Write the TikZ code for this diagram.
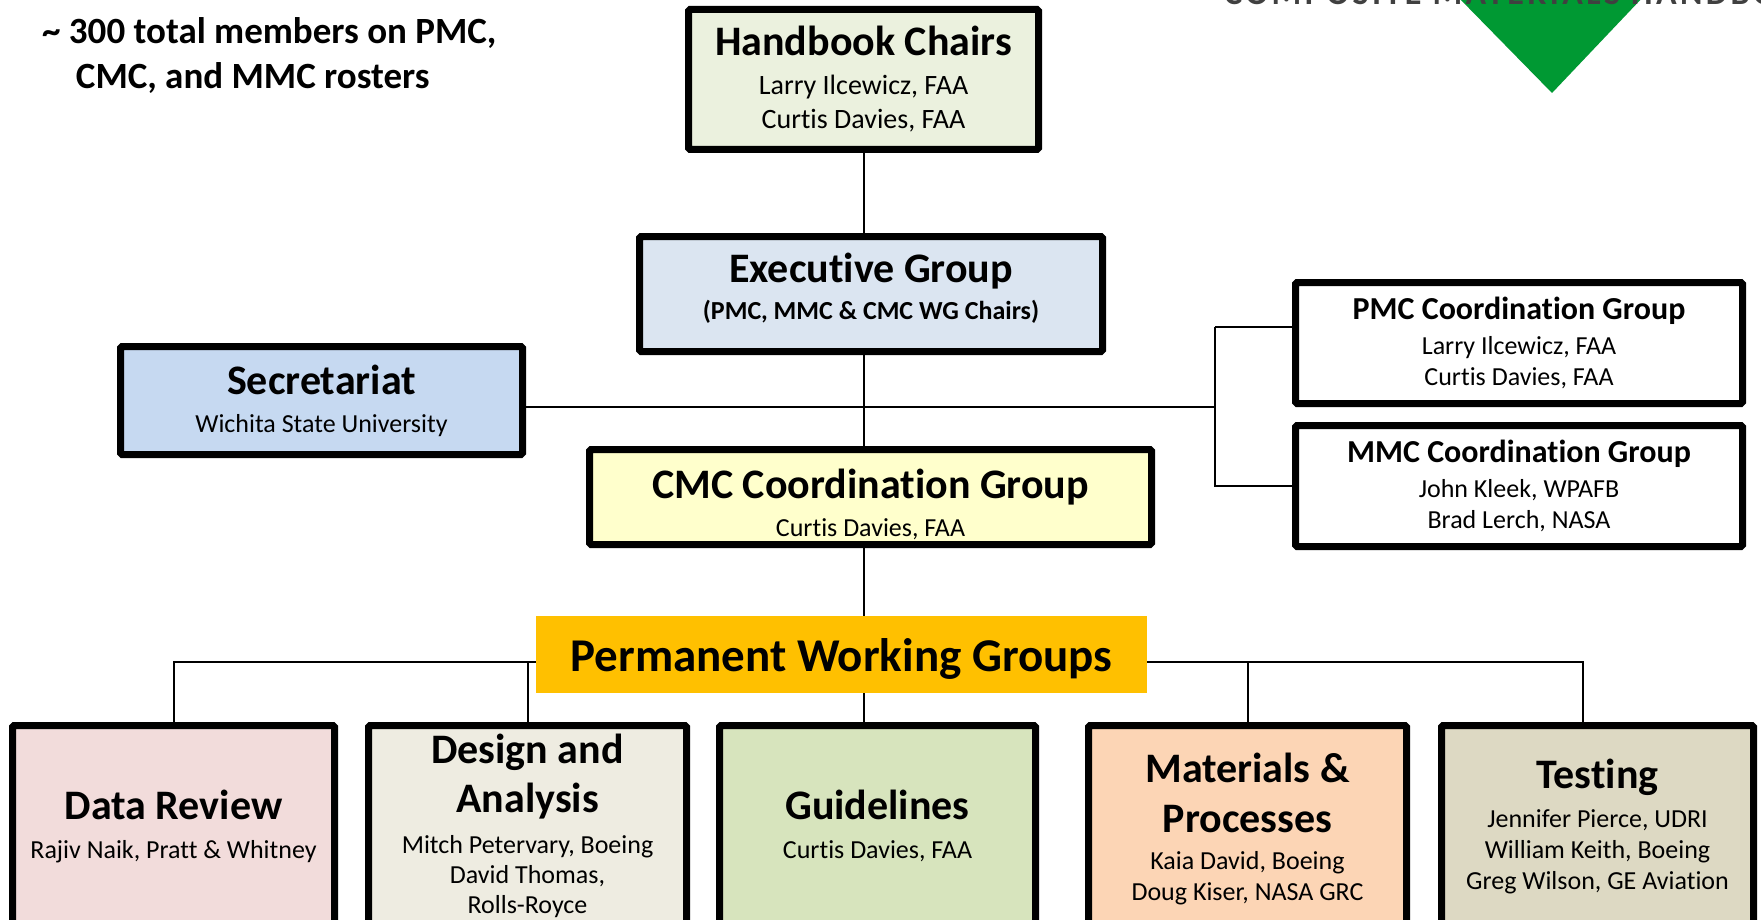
\documentclass[tikz,border=0pt]{standalone}
\usepackage{fontspec}
\setmainfont{Carlito}[RawFeature=-liga, RawFeature=-clig, RawFeature=-calt, RawFeature=-dlig, RawFeature=-rlig]
\usetikzlibrary{backgrounds}
\definecolor{hbfill}{HTML}{EBF1DE}
\definecolor{exfill}{HTML}{DBE5F1}
\definecolor{secfill}{HTML}{C6D9F1}
\definecolor{cmcfill}{HTML}{FFFFCC}
\definecolor{pwgfill}{HTML}{FFC000}
\definecolor{drfill}{HTML}{F2DCDB}
\definecolor{dafill}{HTML}{EEECE1}
\definecolor{gdfill}{HTML}{D7E4BD}
\definecolor{mpfill}{HTML}{FCD5B5}
\definecolor{tstfill}{HTML}{DDD9C3}
\definecolor{trigreen}{HTML}{009933}
\newcommand\myTitle{\fontsize{42}{51}\selectfont\bfseries}
\newcommand\myMid{\fontsize{32}{38}\selectfont\bfseries}
\newcommand\myNames[2]{\fontsize{#1}{#2}\selectfont\lineskiplimit=-1000pt\relax}
\begin{document}
\begin{tikzpicture}[x=1pt,y=-1pt,
  box/.style={draw=black, line width=7pt, rounded corners=1.5pt, align=center, inner sep=0pt},
  conn/.style={line width=2pt, draw=black}]
\useasboundingbox (0,0) rectangle (1761,920);

% header remnants
\fill[trigreen] (1456,-5) -- (1645,-5) -- (1552,93) -- cycle;
\node[anchor=base west, inner sep=0pt, text=black!75,
      font=\fontsize{34}{40}\selectfont\bfseries\addfontfeature{LetterSpace=10}] (hdr) at (1224,5) {COMPOSITE MATERIALS HANDBOOK};

\node[anchor=north west, align=left, inner sep=0pt, font=\fontsize{37}{45}\selectfont\bfseries] (note) at (42,17)
  {\textasciitilde{} 300 total members on PMC,\\\hphantom{\textasciitilde{} }\hspace{7pt}CMC, and MMC rosters};

\node[box, fill=hbfill, minimum width=350pt, minimum height=140pt, font={\myNames{28}{34}}] (hb) at (863.5,79.5)
  {{\myTitle Handbook Chairs}\\[5pt]Larry Ilcewicz, FAA\\Curtis Davies, FAA};

\node[box, fill=exfill, minimum width=463pt, minimum height=115pt, font={\myNames{26}{30}\bfseries}] (ex) at (871,294)
  {{\myTitle Executive Group}\\[7pt](PMC, MMC \& CMC WG Chairs)\rule[-15pt]{0pt}{1pt}};

\node[box, fill=secfill, minimum width=402pt, minimum height=108pt, font={\myNames{26}{31}}] (sec) at (321.5,400.5)
  {{\myTitle Secretariat}\\[7pt]Wichita State University};

\node[box, fill=cmcfill, minimum width=562pt, minimum height=95pt, font={\myNames{26}{31}}] (cmc) at (870.5,497)
  {{\myTitle\rule{0pt}{45pt}CMC Coordination Group}\\[7pt]Curtis Davies, FAA};

\node[box, fill=white, minimum width=447pt, minimum height=121pt, font={\myNames{26}{31}}] (pmc) at (1519,343)
  {{\myMid PMC Coordination Group}\\[4pt]Larry Ilcewicz, FAA\\Curtis Davies, FAA};

\node[box, fill=white, minimum width=447pt, minimum height=121pt, font={\myNames{26}{31}}] (mmc) at (1519,486)
  {{\myMid MMC Coordination Group}\\[4pt]John Kleek, WPAFB\\Brad Lerch, NASA};

\node[fill=pwgfill, minimum width=611pt, minimum height=77pt, inner sep=0pt,
      font=\fontsize{47}{56}\selectfont\bfseries] (pwg) at (841.5,654.5) {\rule{0pt}{42pt}Permanent Working Groups};

\node[box, fill=drfill, minimum width=322pt, minimum height=201pt, font={\myNames{26}{31}}] (dr) at (173.5,826)
  {{\myTitle Data Review}\\[8pt]Rajiv Naik, Pratt \& Whitney};

\node[box, fill=dafill, minimum width=318pt, minimum height=201pt, font={\myNames{26}{30}}] (da) at (527.5,826)
  {{\myTitle Design and}\\[19pt]{\myTitle Analysis}\\[11pt]Mitch Petervary, Boeing\\David Thomas,\\Rolls-Royce};

\node[box, fill=gdfill, minimum width=316pt, minimum height=201pt, font={\myNames{26}{31}}] (gd) at (877.5,826)
  {{\myTitle Guidelines}\\[8pt]Curtis Davies, FAA};

\node[box, fill=mpfill, minimum width=318pt, minimum height=201pt, font={\myNames{26}{31}}] (mp) at (1247.5,826)
  {{\myTitle\rule{0pt}{36pt}Materials \&}\\[19pt]{\myTitle Processes}\\[6pt]Kaia David, Boeing\\Doug Kiser, NASA GRC};

\node[box, fill=tstfill, minimum width=312pt, minimum height=201pt, font={\myNames{26}{31}}] (tst) at (1597.5,826)
  {{\myTitle Testing}\\[8pt]Jennifer Pierce, UDRI\\William Keith, Boeing\\Greg Wilson, GE Aviation};

\coordinate (bus) at (1215,407);
\coordinate (pmcb) at (1215,327);
\coordinate (wbus) at (0,662);
\coordinate (tstx) at (1583,0);

\begin{scope}[on background layer]
\fill[white] (0,0) rectangle (1761,920);
\draw[conn] (hb.south) -- (hb.south |- ex.north);
\draw[conn] (ex.south -| hb.south) -- (cmc.north -| hb.south);
\draw[conn] (sec.east |- bus) -- (bus);
\draw[conn] (pmcb) -- (pmcb -| pmc.west);
\draw[conn] (pmcb) -- (bus |- mmc.west) -- (mmc.west);
\draw[conn] (cmc.south -| hb.south) -- (pwg.north -| hb.south);
\draw[conn] (pwg.south -| hb.south) -- (gd.north -| hb.south);
\draw[conn] (dr.north) -- (dr.north |- wbus) -- (tstx |- wbus) -- (tstx |- tst.north);
\draw[conn] (da.north) -- (da.north |- wbus);
\draw[conn] (mp.north) -- (mp.north |- wbus);
\end{scope}
\end{tikzpicture}
\end{document}
